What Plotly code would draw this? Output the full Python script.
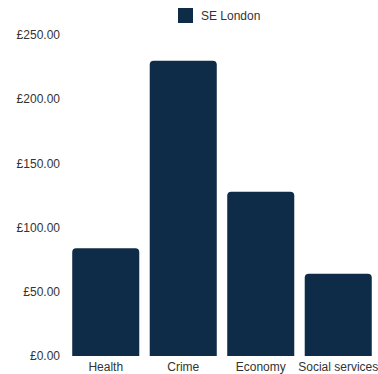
import plotly.graph_objects as go

# Spending per area, SE London
categories = ["Health", "Crime", "Economy", "Social services"]
values = [84, 230, 128, 64]
series_name = "SE London"

y_ticks = [0, 50, 100, 150, 200, 250]
y_tick_labels = ["£0.00", "£50.00", "£100.00", "£150.00", "£200.00", "£250.00"]

bar_color = "#0e2c48"
text_color = "#333333"
font_family = "Liberation Sans, Arial, Helvetica, sans-serif"

W, H = 378, 374
M_L, M_R, M_T, M_B = 67, 1, 35, 18
plot_w = W - M_L - M_R
plot_h = H - M_T - M_B


def px_to_paper_x(px):
    return (px - M_L) / plot_w


def px_to_paper_y(py):
    return (H - M_B - py) / plot_h


fig = go.Figure(
    go.Bar(
        x=categories,
        y=values,
        name=series_name,
        marker=dict(color=bar_color, cornerradius=4, line=dict(width=0)),
        showlegend=False,
    )
)

# Legend: square swatch followed by the series name, centred above the plot
fig.add_shape(
    type="rect",
    xref="paper",
    yref="paper",
    x0=px_to_paper_x(178),
    x1=px_to_paper_x(193),
    y0=px_to_paper_y(23),
    y1=px_to_paper_y(8),
    fillcolor=bar_color,
    line=dict(width=0),
    layer="above",
)
fig.add_annotation(
    xref="paper",
    yref="paper",
    x=px_to_paper_x(199),
    y=px_to_paper_y(16),
    xanchor="left",
    yanchor="middle",
    text=series_name,
    showarrow=False,
    font=dict(size=12, color=text_color),
)

fig.update_layout(
    width=W,
    height=H,
    margin=dict(l=M_L, r=M_R, t=M_T, b=M_B),
    paper_bgcolor="white",
    plot_bgcolor="white",
    font=dict(family=font_family, size=12, color=text_color),
    bargap=0.135,
    showlegend=False,
    xaxis=dict(
        showgrid=False,
        showline=False,
        zeroline=False,
        ticks="",
        ticklabelstandoff=2,
        tickfont=dict(size=12, color=text_color),
    ),
    yaxis=dict(
        range=[0, 250],
        tickvals=y_ticks,
        ticktext=y_tick_labels,
        showgrid=False,
        showline=False,
        zeroline=False,
        ticks="",
        ticklabelstandoff=6,
        tickfont=dict(size=12, color=text_color),
    ),
)

fig.write_html("out.html")
